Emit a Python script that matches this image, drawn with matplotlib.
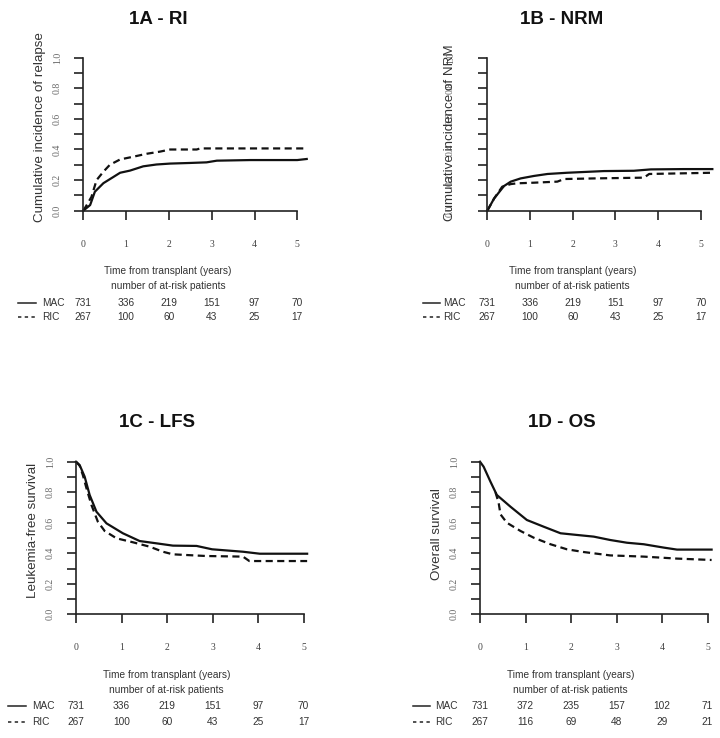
import matplotlib
matplotlib.use("Agg")
import matplotlib.pyplot as plt
import matplotlib.transforms as mtransforms
from matplotlib.lines import Line2D
import numpy as np

# ---------------- data ----------------
years = [0, 1, 2, 3, 4, 5]

# 1A - RI
ri_mac_t = [0, 0.16, 0.27, 0.47, 0.70, 0.86, 1.09, 1.40, 1.71, 2.03, 2.49, 2.88, 3.12, 3.90, 5.00, 5.22]
ri_mac_v = [0, 0.037, 0.124, 0.18, 0.22, 0.248, 0.262, 0.29, 0.302, 0.308, 0.312, 0.316, 0.327, 0.331, 0.331, 0.338]
ri_ric_t = [0, 0.08, 0.19, 0.31, 0.47, 0.62, 0.86, 1.17, 1.48, 1.79, 2.03, 2.65, 2.73, 5.22]
ri_ric_v = [0, 0.037, 0.09, 0.20, 0.255, 0.30, 0.335, 0.353, 0.372, 0.386, 0.40, 0.40, 0.407, 0.407]

# 1B - NRM
nrm_mac_t = [0, 0.16, 0.39, 0.55, 0.78, 1.09, 1.41, 1.87, 2.26, 2.73, 3.43, 3.83, 4.60, 5.27]
nrm_mac_v = [0, 0.08, 0.161, 0.19, 0.211, 0.227, 0.24, 0.248, 0.253, 0.259, 0.261, 0.27, 0.272, 0.272]
nrm_ric_t = [0, 0.16, 0.35, 0.55, 0.70, 1.09, 1.64, 1.80, 2.50, 3.67, 3.79, 5.27]
nrm_ric_v = [0, 0.08, 0.157, 0.174, 0.179, 0.183, 0.19, 0.207, 0.211, 0.216, 0.24, 0.248]

# 1C - LFS
lfs_mac_t = [0, 0.08, 0.19, 0.30, 0.45, 0.67, 1.03, 1.40, 1.77, 2.13, 2.65, 2.99, 3.67, 4.04, 5.08]
lfs_mac_v = [1.0, 0.978, 0.902, 0.782, 0.672, 0.596, 0.531, 0.48, 0.465, 0.45, 0.448, 0.426, 0.41, 0.397, 0.397]
lfs_ric_t = [0, 0.08, 0.15, 0.23, 0.34, 0.48, 0.63, 0.89, 1.25, 1.62, 1.91, 2.13, 2.86, 3.67, 3.81, 5.08]
lfs_ric_v = [1.0, 0.974, 0.913, 0.826, 0.716, 0.607, 0.546, 0.498, 0.472, 0.443, 0.41, 0.393, 0.382, 0.378, 0.349, 0.349]

# 1D - OS
os_mac_t = [0, 0.08, 0.23, 0.37, 0.67, 1.03, 1.40, 1.77, 2.13, 2.50, 2.86, 3.23, 3.60, 4.04, 4.33, 5.09]
os_mac_v = [1.0, 0.967, 0.869, 0.782, 0.705, 0.618, 0.574, 0.531, 0.52, 0.509, 0.487, 0.469, 0.459, 0.437, 0.424, 0.424]
os_ric_t = [0.34, 0.41, 0.45, 0.59, 0.89, 1.18, 1.55, 1.91, 2.28, 2.86, 3.60, 4.33, 5.09]
os_ric_v = [0.80, 0.73, 0.655, 0.60, 0.546, 0.502, 0.459, 0.426, 0.408, 0.386, 0.378, 0.365, 0.356]

risk_mac_ab = [731, 336, 219, 151, 97, 70]
risk_ric_ab = [267, 100, 60, 43, 25, 17]
risk_mac_c = [731, 336, 219, 151, 97, 70]
risk_ric_c = [267, 100, 60, 43, 25, 17]
risk_mac_d = [731, 372, 235, 157, 102, 71]
risk_ric_d = [267, 116, 69, 48, 29, 21]

titles = ["1A - RI", "1B - NRM", "1C - LFS", "1D - OS"]
ylabels = ["Cumulative incidence of relapse", "Cumulative incidence of NRM",
           "Leukemia-free survival", "Overall survival"]
xlabel = "Time from transplant (years)"
risk_header = "number of at-risk patients"
groups = ["MAC", "RIC"]

# ---------------- layout ----------------
W, H = 720, 738
fig = plt.figure(figsize=(W / 100, H / 100), dpi=100)

SANSW = ["Liberation Sans", "DejaVu Sans"]
SERIF = ["Liberation Serif", "DejaVu Serif"]
TXT = "#333333"


def fx(x):
    return x / W


def fy(y):
    return 1 - y / H


panels = [
    dict(x0=83.3, ppy=42.8, xmax=5.24, ytop=57.7, ybot=210.7, tx=158, ty=19,
         ylx=40, yly=127, bx=168, by=(270.7, 286, 302.7, 317.3), lx=(18, 36), lab=42, ypad=9,
         mac=(ri_mac_t, ri_mac_v), ric=(ri_ric_t, ri_ric_v), rm=risk_mac_ab, rr=risk_ric_ab),
    dict(x0=487.3, ppy=42.7, xmax=5.29, ytop=57.7, ybot=210.7, tx=561.7, ty=19,
         ylx=450, yly=132.5, bx=572.7, by=(270.7, 286, 302.7, 317.3), lx=(423, 440), lab=443, ypad=16.8,
         mac=(nrm_mac_t, nrm_mac_v), ric=(nrm_ric_t, nrm_ric_v), rm=risk_mac_ab, rr=risk_ric_ab),
    dict(x0=76, ppy=45.5, xmax=5.10, ytop=461.7, ybot=614.3, tx=157, ty=422.5,
         ylx=33.3, yly=530, bx=166.7, by=(675, 690, 706, 721.7), lx=(8, 26), lab=31.7, ypad=8.6,
         mac=(lfs_mac_t, lfs_mac_v), ric=(lfs_ric_t, lfs_ric_v), rm=risk_mac_c, rr=risk_ric_c),
    dict(x0=480, ppy=45.5, xmax=5.11, ytop=461.7, ybot=614.3, tx=561.7, ty=422.5,
         ylx=436.7, yly=534.2, bx=570.7, by=(675, 690, 706, 721.7), lx=(412.7, 430), lab=435, ypad=8.6,
         mac=(os_mac_t, os_mac_v), ric=(os_ric_t, os_ric_v), rm=risk_mac_d, rr=risk_ric_d),
]

for i, p in enumerate(panels):
    left = fx(p["x0"])
    width = p["ppy"] * p["xmax"] / W
    bottom = fy(p["ybot"])
    height = (p["ybot"] - p["ytop"]) / H
    ax = fig.add_axes([left, bottom, width, height])
    ax.set_xlim(0, p["xmax"])
    ax.set_ylim(0, 1.0)
    ax.patch.set_visible(False)

    ax.plot(p["mac"][0], p["mac"][1], color="#111111", lw=1.6, clip_on=False,
            solid_joinstyle="round")
    ax.plot(p["ric"][0], p["ric"][1], color="#111111", lw=1.6, clip_on=False,
            linestyle=(0, (3.2, 2.0)))

    for s in ["top", "right"]:
        ax.spines[s].set_visible(False)
    for s in ["left", "bottom"]:
        ax.spines[s].set_linewidth(1.2)
        ax.spines[s].set_color("#222222")
    ax.spines["bottom"].set_bounds(0, 5)
    ax.spines["left"].set_bounds(0, 1)

    ax.set_xticks(years)
    ax.set_xticklabels([str(y) for y in years])
    ax.set_yticks(np.round(np.arange(0, 1.01, 0.2), 1))
    ax.set_yticklabels(["0.0", "0.2", "0.4", "0.6", "0.8", "1.0"])
    ax.set_yticks(np.round(np.arange(0.1, 1.0, 0.2), 1), minor=True)
    ax.tick_params(axis="x", length=6.5, width=1.2, color="#222222", pad=14.5,
                   labelsize=7, labelcolor="#444444")
    ax.tick_params(axis="y", which="both", length=6.5, width=1.2, color="#222222")
    ax.tick_params(axis="y", which="major", pad=p["ypad"], labelsize=7,
                   labelcolor="#666666", labelrotation=90)
    for lbl in ax.get_xticklabels() + ax.get_yticklabels():
        lbl.set_family(SERIF)
    for lbl in ax.get_yticklabels():
        lbl.set_verticalalignment("center")

    # title
    fig.text(fx(p["tx"]), fy(p["ty"]), titles[i], ha="center", va="center",
             fontsize=13.5, fontweight="bold", family=SANSW, color="#111111")
    # y label
    fig.text(fx(p["ylx"]), fy(p["yly"]), ylabels[i], rotation=90, ha="center",
             va="center", fontsize=9.6, family=SANSW, color="#333333")
    # bottom texts
    fig.text(fx(p["bx"]), fy(p["by"][0]), xlabel, ha="center", va="center",
             fontsize=7.3, family=SANSW, color=TXT)
    fig.text(fx(p["bx"]), fy(p["by"][1]), risk_header, ha="center", va="center",
             fontsize=7.3, family=SANSW, color=TXT)

    trans = mtransforms.blended_transform_factory(ax.transData, fig.transFigure)
    for row, (vals, ls) in enumerate([(p["rm"], "-"), (p["rr"], (0, (2.2, 2.2)))]):
        yrow = fy(p["by"][2 + row])
        for yv, n in zip(years, vals):
            ax.text(yv, yrow, str(n), transform=trans, ha="center", va="center",
                    fontsize=7.3, family=SANSW, color=TXT, clip_on=False)
        fig.add_artist(Line2D([fx(p["lx"][0]), fx(p["lx"][1])], [yrow, yrow],
                              transform=fig.transFigure, color="#222222", lw=1.1,
                              linestyle=ls))
        fig.text(fx(p["lab"]), yrow, groups[row], ha="left", va="center",
                 fontsize=7.3, family=SANSW, color=TXT)

fig.savefig("out.png", dpi=100)
